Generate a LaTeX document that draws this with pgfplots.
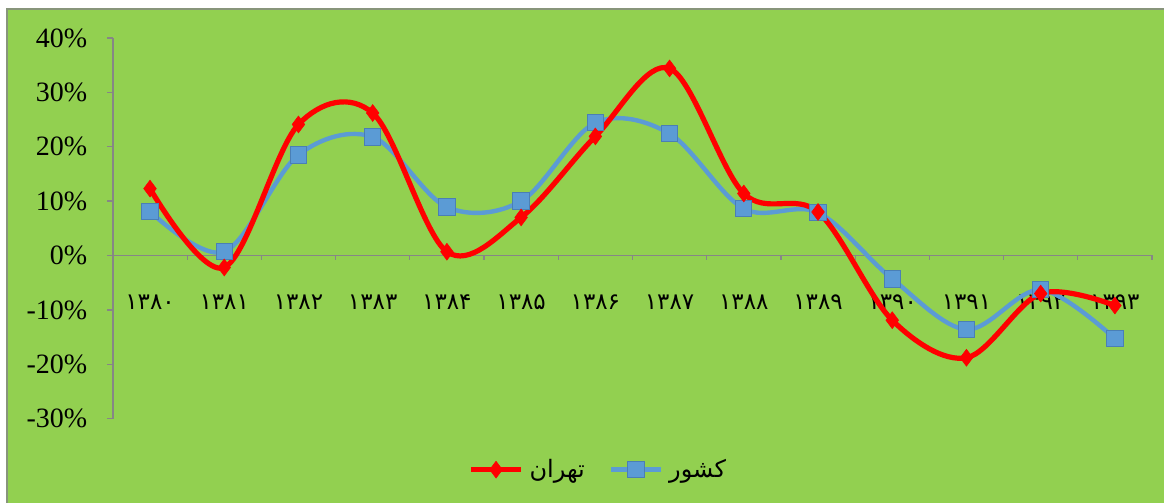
\documentclass[border=0pt]{standalone}
\usepackage{fontspec}
\setmainfont{Liberation Serif}
\newfontfamily\arabicfont[Script=Arabic]{DejaVu Sans}
\TeXXeTstate=1
\usepackage{pgfplots}
\pgfplotsset{compat=1.18}
\usetikzlibrary{backgrounds}
\definecolor{bggreen}{HTML}{92D050}
\definecolor{axgray}{HTML}{868686}
\definecolor{cblue}{HTML}{5B9BD5}
\definecolor{cbluedark}{HTML}{4A7FB5}
\definecolor{cred}{HTML}{FF0000}

\pgfplotstableread{
x tehran keshvar
0 12.3 8.1
1 -2.2 0.7
2 24.1 18.5
3 26.2 21.8
4 0.7 8.9
5 7.0 10.0
6 21.9 24.4
7 34.4 22.4
8 11.4 8.6
9 8.0 7.9
10 -11.9 -4.3
11 -18.8 -13.6
12 -7.0 -6.3
13 -9.2 -15.3
}\datatable

\begin{document}
\begin{tikzpicture}
\begin{axis}[name=ax, scale only axis, width=520pt, height=190.5pt,
  xmin=-0.5, xmax=13.5, ymin=-30, ymax=40,
  axis x line=middle, axis y line=left,
  axis line style={-, draw=axgray, line width=0.7pt},
  xtick={0,...,13},
  xticklabels={۱۳۸۰,۱۳۸۱,۱۳۸۲,۱۳۸۳,۱۳۸۴,۱۳۸۵,۱۳۸۶,۱۳۸۷,۱۳۸۸,۱۳۸۹,۱۳۹۰,۱۳۹۱,۱۳۹۲,۱۳۹۳},
  minor xtick={-0.5,0.5,...,13.5},
  major x tick style={draw=none},
  minor x tick style={draw=axgray, line width=0.6pt},
  ytick={-30,-20,-10,0,10,20,30,40},
  yticklabels={-30\%,-20\%,-10\%,0\%,10\%,20\%,30\%,40\%},
  ytick style={draw=axgray, line width=0.7pt},
  tick align=outside,
  major tick length=2.8pt, minor tick length=2.2pt,
  xticklabel style={anchor=center, yshift=-20.5pt, font=\arabicfont\fontsize{11.5}{13}\selectfont, text=black},
  yticklabel style={font=\fontsize{14}{16}\selectfont, text=black, xshift=-6.5pt},
  legend style={at={(0.468,-0.134)}, anchor=center, draw=none, fill=none,
    legend columns=2, font=\arabicfont\fontsize{12}{14}\selectfont,
    /tikz/every even column/.append style={column sep=10pt},
    /tikz/every odd column/.append style={column sep=1pt}},
  legend image code/.code={\draw[mark repeat=2,mark phase=2,#1] plot coordinates {(0pt,0pt) (12.5pt,0pt) (25pt,0pt)};},
]
\addplot[cblue, line width=2.2pt, smooth, tension=0.55, mark=square*, mark size=4.1pt,
  mark options={fill=cblue, draw=cbluedark, line width=0.5pt}, forget plot] table[x=x, y=keshvar] {\datatable};
\addplot[cred, line width=2.6pt, smooth, tension=0.55, mark=diamond*, mark size=4.2pt,
  mark options={fill=cred, draw=cred, line width=0.3pt}] table[x=x, y=tehran] {\datatable};
\addlegendentry{\beginR تهران\endR}
\addlegendimage{cblue, line width=2.2pt, mark=square*, mark size=4.1pt, mark options={fill=cblue, draw=cbluedark, line width=0.5pt}}
\addlegendentry{\beginR کشور\endR}
\end{axis}
\begin{scope}[on background layer]
\fill[bggreen] ([shift={(-53pt,-42pt)}]ax.south west) rectangle ([shift={(6pt,14.5pt)}]ax.north east);
\draw[axgray!80!bggreen, line width=1pt] ([shift={(-53pt,-42pt)}]ax.south west) -- ([shift={(-53pt,14.5pt)}]ax.south west |- ax.north east) -- ([shift={(6pt,14.5pt)}]ax.north east);
\end{scope}
\path[use as bounding box] ([shift={(-56.5pt,-42pt)}]ax.south west) rectangle ([shift={(6pt,19pt)}]ax.north east);
\end{tikzpicture}
\end{document}
